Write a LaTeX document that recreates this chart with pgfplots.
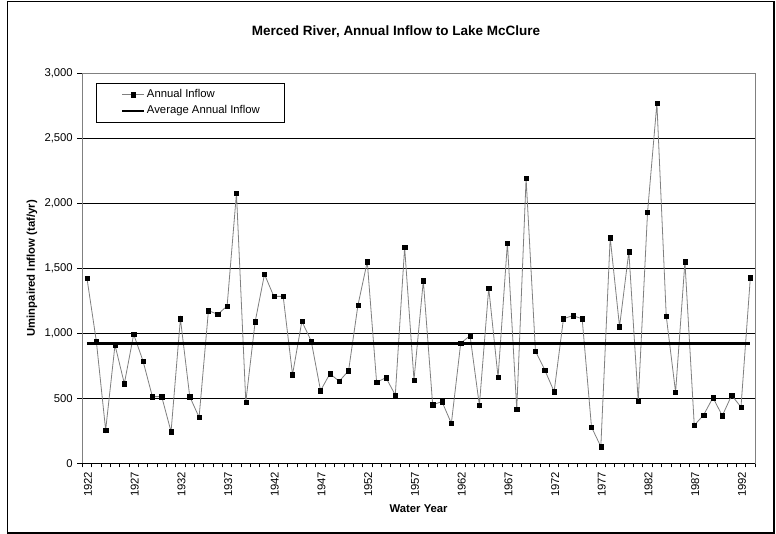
\documentclass[border=0pt]{standalone}
\usepackage{pgfplots}
\pgfplotsset{compat=1.18}
\usepackage{fontspec}
\setmainfont{Liberation Sans}
\definecolor{linegray}{HTML}{808080}
\newcommand{\tf}{\fontsize{11.3bp}{13.5bp}\selectfont}
\begin{document}
\begin{tikzpicture}
\path[fill=white] (0bp,0bp) rectangle (776bp,534bp);
\draw[line width=1.5bp] (7.5bp,1.2bp) rectangle (774bp,532.5bp);
\node[font=\fontsize{13.5bp}{16bp}\selectfont\bfseries] at (396bp,502.7bp) {Merced River, Annual Inflow to Lake McClure};
\begin{axis}[
  at={(82.3bp,70.7bp)}, anchor=south west,
  scale only axis, width=672.7bp, height=390bp,
  xmin=1921.5, xmax=1993.5, ymin=0, ymax=3000,
  xtick={1922,1927,...,1992},
  minor xtick={1921.5,1922.5,...,1993.5},
  ytick={0,500,...,3000},
  xtick pos=bottom, ytick pos=left,
  tick align=outside,
  major tick length=5bp, minor tick length=4bp,
  major x tick style={draw=none},
  minor x tick style={black, line width=0.8bp},
  major y tick style={black, line width=0.8bp},
  ymajorgrids,
  major grid style={black, line width=0.8bp},
  axis line style={draw=linegray, line width=0.8bp},
  /pgf/number format/assume math mode=true,
  /pgf/number format/1000 sep={,},
  xticklabel={\pgfmathprintnumber[1000 sep={}]{\tick}},
  xticklabel style={rotate=90, anchor=east, font=\tf, yshift=-1bp},
  yticklabel style={font=\tf, xshift=-1bp},
  xlabel={Water Year},
  ylabel={Uminpaired Inflow (taf/yr)},
  xlabel style={font=\tf\bfseries, at={(axis description cs:0.5,0)}, anchor=center, yshift=-45bp},
  ylabel style={font=\tf\bfseries, at={(axis description cs:-0.0748,0.5)}, anchor=center},
  legend style={at={(axis description cs:0.0199,0.9759)}, anchor=north west,
    draw=black, line width=0.8bp, font=\tf, inner xsep=25bp, inner ysep=3.8bp,
    column sep=0bp,
    nodes={inner xsep=0bp, inner ysep=2.5bp, text height=8.5bp, text depth=2.5bp}},
  legend cell align=left,
  legend image code/.code={%
    \draw[#1] (0bp,0bp) -- (22bp,0bp);},
  clip=false,
]
\addplot[draw=linegray, line width=0.8bp, mark=square*, mark size=2.1bp,
  mark options={fill=black, draw=black, line width=0.4bp},
  legend image code/.code={%
    \draw[draw=linegray, line width=0.8bp] (0bp,0bp) -- (22bp,0bp);
    \fill[black] (8.9bp,-2.1bp) rectangle (13.1bp,2.1bp);}]
coordinates {
(1922,1423) (1923,940) (1924,256) (1925,910) (1926,613) (1927,992) (1928,787) (1929,513)
(1930,513) (1931,243) (1932,1112) (1933,513) (1934,354) (1935,1174) (1936,1146) (1937,1210)
(1938,2077) (1939,472) (1940,1089) (1941,1454) (1942,1284) (1943,1284) (1944,682) (1945,1092)
(1946,941) (1947,559) (1948,689) (1949,631) (1950,712) (1951,1215) (1952,1551) (1953,623)
(1954,659) (1955,525) (1956,1661) (1957,641) (1958,1405) (1959,451) (1960,474) (1961,307)
(1962,923) (1963,982) (1964,446) (1965,1349) (1966,661) (1967,1695) (1968,415) (1969,2190)
(1970,864) (1971,718) (1972,551) (1973,1112) (1974,1136) (1975,1112) (1976,279) (1977,128)
(1978,1736) (1979,1051) (1980,1628) (1981,477) (1982,1933) (1983,2769) (1984,1133) (1985,546)
(1986,1551) (1987,292) (1988,372) (1989,505) (1990,366) (1991,523) (1992,433) (1993,1428)
};
\addplot[black, line width=2.6bp, mark=none] coordinates {(1922,923) (1993,923)};
\legend{\hspace*{1.3bp}Annual Inflow, \hspace*{1.3bp}Average Annual Inflow}
\draw[black, line width=0.9bp] (rel axis cs:0,0) -- (rel axis cs:1,0);
\end{axis}
\end{tikzpicture}
\end{document}
